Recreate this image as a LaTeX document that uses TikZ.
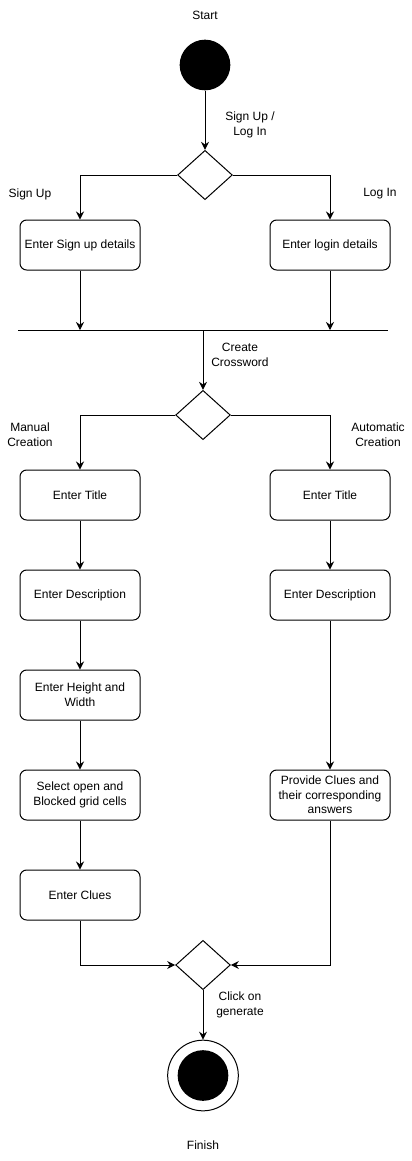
\documentclass[tikz,border=0pt]{standalone}
\usepackage{fontspec}
\setmainfont{Liberation Sans}
\usetikzlibrary{shapes.geometric,arrows.meta}

\begin{document}
\begin{tikzpicture}[x=0.75pt,y=-0.75pt,line width=0.75pt,
	font=\fontsize{9}{11}\selectfont,
	act/.style={draw,rounded corners=5pt,minimum width=90pt,minimum height=37.5pt,align=center,inner sep=1pt},
	choice/.style={draw,diamond,minimum width=41pt,minimum height=37pt,inner sep=0pt},
	flow/.style={-{Stealth[length=6pt,width=6pt,inset=2pt]}},
	lbl/.style={align=center,inner sep=0pt}]
	\useasboundingbox (0,0) rectangle (411,1161);
	\def\l{80} % left column
	\def\r{330} % right column
	\def\m{203} % middle
	
	% start
	\node[lbl] (starttxt) at (205,15) {Start};
	\node[circle,fill=black,minimum size=38pt,inner sep=0pt] (start) at (205,65) {};
	\node[choice] (d1) at (205,175) {};
	\node[lbl] (sltxt) at (250,125) {Sign Up /\\Log In};
	
	% sign up / log in
	\node[act] (signup) at (\l,245) {Enter Sign up details};
	\node[act] (login) at (\r,245) {Enter login details};
	\node[lbl] (sutxt) at (30,194) {Sign Up};
	\node[lbl] (litxt) at (380,194) {Log In};
	
	% join bar
	\coordinate (barL) at (18,330);
	\coordinate (barR) at (388,330);
	\coordinate (bar) at (\m,330);
	
	% create crossword
	\node[choice] (d2) at (\m,415) {};
	\node[lbl] (cctxt) at (240,355) {Create\\Crossword};
	\node[lbl] (mctxt) at (30,435) {Manual\\Creation};
	\node[lbl] (actxt) at (378,435) {Automatic\\Creation};
	
	% manual creation
	\node[act] (mtitle) at (\l,495) {Enter Title};
	\node[act] (mdesc) at (\l,595) {Enter Description};
	\node[act] (size) at (\l,695) {Enter Height and\\Width};
	\node[act] (cells) at (\l,795) {Select open and\\Blocked grid cells};
	\node[act] (clues) at (\l,895) {Enter Clues};
	
	% automatic creation
	\node[act] (atitle) at (\r,495) {Enter Title};
	\node[act] (adesc) at (\r,595) {Enter Description};
	\node[act] (answers) at (\r,795) {Provide Clues and\\their corresponding\\answers};
	
	% generate and finish
	\node[choice] (d3) at (\m,965) {};
	\node[lbl] (gentxt) at (240,1005) {Click on\\generate};
	\node[circle,draw,minimum size=53pt,inner sep=0pt] (finish) at (\m,1075.5) {};
	\node[circle,fill=black,minimum size=38pt,inner sep=0pt] (finishdot) at (finish) {};
	\node[lbl] (fintxt) at (\m,1145) {Finish};
	
	% connectors
	\draw[flow] (start) -- (d1);
	\draw[flow] (d1.west) -| (signup);
	\draw[flow] (d1.east) -| (login);
	\draw[flow] (signup) -- (signup |- bar);
	\draw[flow] (login) -- (login |- bar);
	\draw (barL) -- (barR);
	\draw[flow] (bar) -- (d2);
	\draw[flow] (d2.west) -| (mtitle);
	\draw[flow] (d2.east) -| (atitle);
	\draw[flow] (mtitle) -- (mdesc);
	\draw[flow] (mdesc) -- (size);
	\draw[flow] (size) -- (cells);
	\draw[flow] (cells) -- (clues);
	\draw[flow] (atitle) -- (adesc);
	\draw[flow] (adesc) -- (answers);
	\draw[flow] (clues.south) |- (d3.west);
	\draw[flow] (answers.south) |- (d3.east);
	\draw[flow] (d3) -- (finish);
\end{tikzpicture}
\end{document}
